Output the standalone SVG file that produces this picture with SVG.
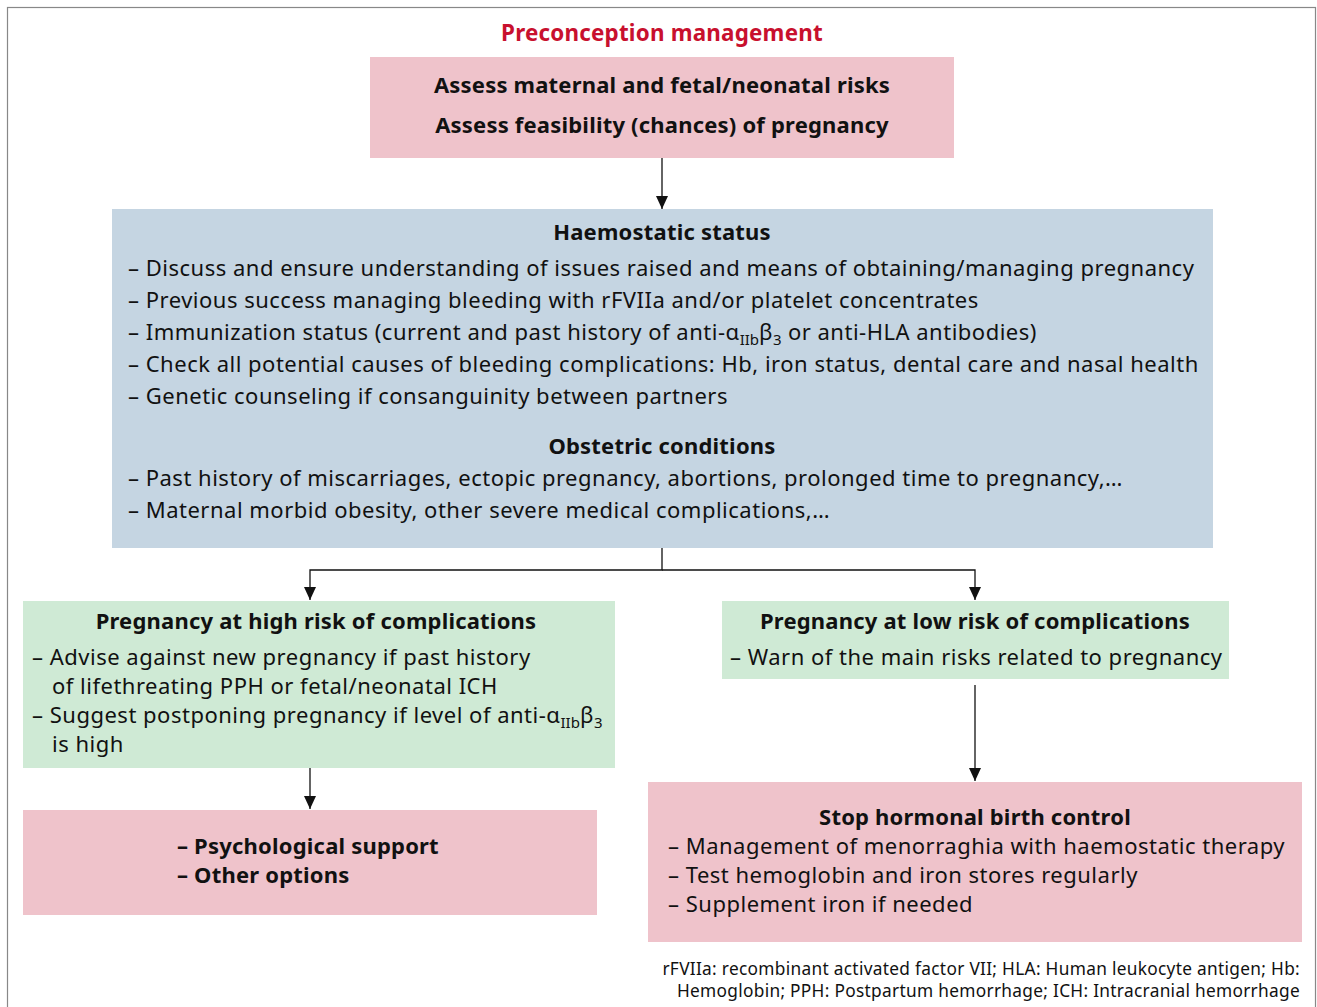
<svg xmlns="http://www.w3.org/2000/svg" width="1317" height="1007" viewBox="0 0 1317 1007">
<defs>
<style>
.t{font-family:"Noto Sans","Liberation Sans",sans-serif;font-size:22px;letter-spacing:0.5px;fill:#111}
.b{font-weight:bold;letter-spacing:0.2px}
.c{text-anchor:middle}
.pink{fill:#efc3cb}
.blue{fill:#c5d5e2}
.green{fill:#cfead5}
.ln{stroke:#111;stroke-width:1.3;fill:none}
.sub{font-size:15px;letter-spacing:0}
.fn{font-family:"Noto Sans","Liberation Sans",sans-serif;font-size:17.3px;letter-spacing:0.3px;fill:#111;text-anchor:end}
</style>
<marker id="ah" markerWidth="13" markerHeight="12" refX="13" refY="6" orient="auto" markerUnits="userSpaceOnUse" viewBox="0 0 13 12">
<path d="M0,0 L13,6 L0,12 Z" fill="#111"/>
</marker>
</defs>
<rect x="0" y="0" width="1317" height="1007" fill="#fff"/>
<rect x="7.5" y="7.5" width="1308" height="1010" fill="none" stroke="#888" stroke-width="1.2"/>
<text class="t b c" x="662" y="41" style="fill:#c8102e;font-size:22.4px">Preconception management</text>

<g id="assess">
<rect class="pink" x="370" y="57" width="584" height="101"/>
<text class="t b c" x="662" y="93">Assess maternal and fetal/neonatal risks</text>
<text class="t b c" x="662" y="133">Assess feasibility (chances) of pregnancy</text>
</g>

<g id="haemostatic">
<rect class="blue" x="112" y="209" width="1101" height="339"/>
<text class="t b c" x="662" y="240">Haemostatic status</text>
<text class="t" x="128" y="276">– Discuss and ensure understanding of issues raised and means of obtaining/managing pregnancy</text>
<text class="t" x="128" y="308">– Previous success managing bleeding with rFVIIa and/or platelet concentrates</text>
<text class="t" x="128" y="340">– Immunization status (current and past history of anti-α<tspan class="sub" dy="5">IIb</tspan><tspan dy="-5">β</tspan><tspan class="sub" dy="5">3</tspan><tspan dy="-5"> or anti-HLA antibodies)</tspan></text>
<text class="t" x="128" y="372">– Check all potential causes of bleeding complications: Hb, iron status, dental care and nasal health</text>
<text class="t" x="128" y="404">– Genetic counseling if consanguinity between partners</text>
<text class="t b c" x="662" y="454">Obstetric conditions</text>
<text class="t" x="128" y="486">– Past history of miscarriages, ectopic pregnancy, abortions, prolonged time to pregnancy,…</text>
<text class="t" x="128" y="518">– Maternal morbid obesity, other severe medical complications,…</text>
</g>

<g id="high-risk">
<rect class="green" x="23" y="601" width="592" height="167"/>
<text class="t b c" x="316" y="629">Pregnancy at high risk of complications</text>
<text class="t" x="32" y="665">– Advise against new pregnancy if past history</text>
<text class="t" x="52" y="694">of lifethreating PPH or fetal/neonatal ICH</text>
<text class="t" x="32" y="723">– Suggest postponing pregnancy if level of anti-α<tspan class="sub" dy="5">IIb</tspan><tspan dy="-5">β</tspan><tspan class="sub" dy="5">3</tspan></text>
<text class="t" x="52" y="752">is high</text>
</g>

<g id="low-risk">
<rect class="green" x="722" y="601" width="507" height="78"/>
<text class="t b c" x="975" y="629">Pregnancy at low risk of complications</text>
<text class="t" x="730" y="665">– Warn of the main risks related to pregnancy</text>
</g>

<g id="support">
<rect class="pink" x="23" y="810" width="574" height="105"/>
<text class="t b" x="177" y="854">– Psychological support</text>
<text class="t b" x="177" y="883">– Other options</text>
</g>

<g id="birth-control">
<rect class="pink" x="648" y="782" width="654" height="160"/>
<text class="t b c" x="975" y="825">Stop hormonal birth control</text>
<text class="t" x="668" y="854">– Management of menorraghia with haemostatic therapy</text>
<text class="t" x="668" y="883">– Test hemoglobin and iron stores regularly</text>
<text class="t" x="668" y="912">– Supplement iron if needed</text>
</g>

<g id="connectors">
<line class="ln" x1="662" y1="158" x2="662" y2="209" marker-end="url(#ah)"/>
<polyline class="ln" points="662,548 662,570 310,570 310,600" marker-end="url(#ah)"/>
<polyline class="ln" points="662,570 975,570 975,600" marker-end="url(#ah)"/>
<line class="ln" x1="310" y1="768" x2="310" y2="809" marker-end="url(#ah)"/>
<line class="ln" x1="975" y1="685" x2="975" y2="781" marker-end="url(#ah)"/>
</g>

<g id="footnote">
<text class="fn" x="1300" y="975">rFVIIa: recombinant activated factor VII; HLA: Human leukocyte antigen; Hb:</text>
<text class="fn" x="1300" y="997">Hemoglobin; PPH: Postpartum hemorrhage; ICH: Intracranial hemorrhage</text>
</g>
</svg>
